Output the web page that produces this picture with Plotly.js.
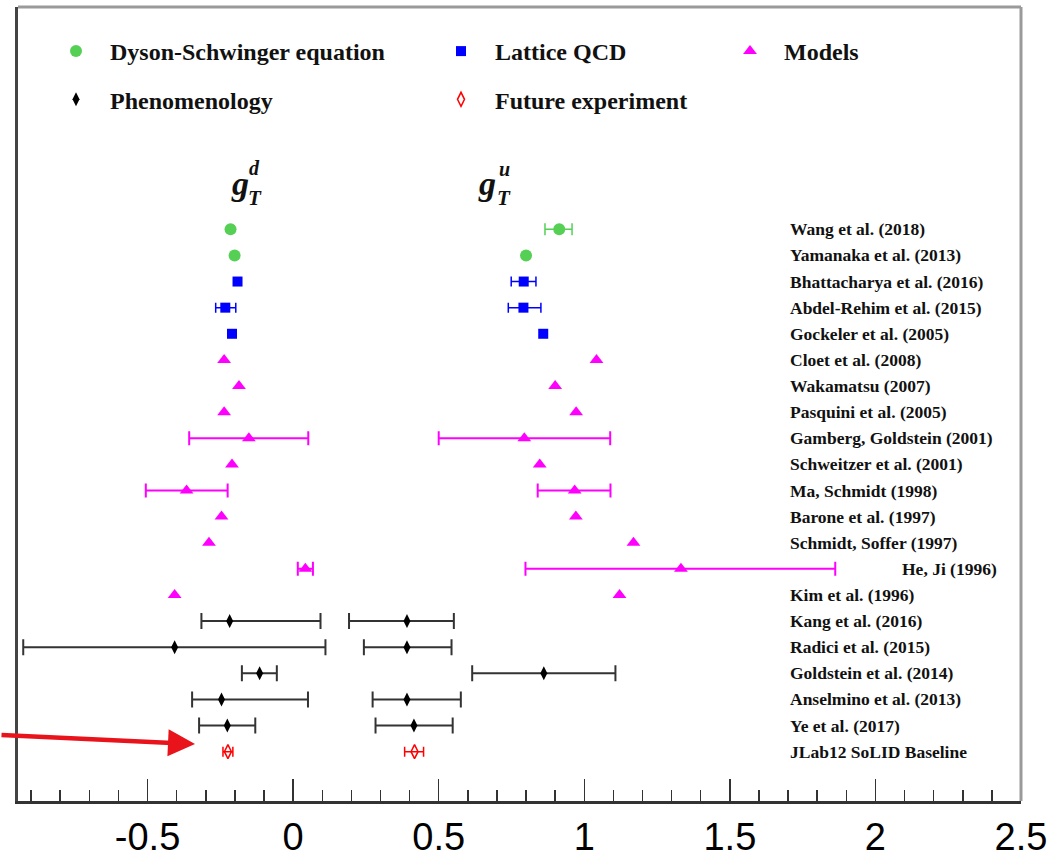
<!DOCTYPE html>
<html>
<head>
<meta charset="utf-8">
<script src="https://cdn.plot.ly/plotly-3.0.1.min.js"></script>
<style>html,body{margin:0;padding:0;background:#fff;}#chart{width:1053px;height:858px;}</style>
</head>
<body>
<div id="chart"></div>
<script>
// ---------- data ----------
const studies = [
  "Wang et al. (2018)", "Yamanaka et al. (2013)", "Bhattacharya et al. (2016)",
  "Abdel-Rehim et al. (2015)", "Gockeler et al. (2005)", "Cloet et al. (2008)",
  "Wakamatsu (2007)", "Pasquini et al. (2005)", "Gamberg, Goldstein (2001)",
  "Schweitzer et al. (2001)", "Ma, Schmidt (1998)", "Barone et al. (1997)",
  "Schmidt, Soffer (1997)", "He, Ji (1996)", "Kim et al. (1996)",
  "Kang et al. (2016)", "Radici et al. (2015)", "Goldstein et al. (2014)",
  "Anselmino et al. (2013)", "Ye et al. (2017)", "JLab12 SoLID Baseline"
];
const method = [
  "DSE", "DSE", "LQCD", "LQCD", "LQCD",
  "Model", "Model", "Model", "Model", "Model", "Model", "Model", "Model", "Model", "Model",
  "Pheno", "Pheno", "Pheno", "Pheno", "Pheno", "Future"
];
const gTd = [-0.215, -0.201, -0.191, -0.233, -0.210, -0.237, -0.186, -0.237, -0.152, -0.210,
             -0.366, -0.246, -0.289, 0.042, -0.407, -0.218, -0.407, -0.115, -0.246, -0.226, -0.224];
const gTdErrMinus = [null, null, null, 0.033, null, null, null, null, 0.205, null,
                     0.140, null, null, 0.026, null, 0.097, 0.520, 0.061, 0.101, 0.097, 0.017];
const gTdErrPlus  = [null, null, null, 0.036, null, null, null, null, 0.204, null,
                     0.141, null, null, 0.026, null, 0.312, 0.518, 0.059, 0.297, 0.096, 0.017];
const gTu = [0.914, 0.800, 0.792, 0.791, 0.859, 1.042, 0.900, 0.972, 0.794, 0.847,
             0.967, 0.971, 1.169, 1.332, 1.121, 0.391, 0.391, 0.861, 0.391, 0.415, 0.417];
const gTuErrMinus = [0.049, null, 0.043, 0.052, null, null, null, null, 0.294, null,
                     0.127, null, null, 0.534, null, 0.199, 0.148, 0.246, 0.118, 0.132, 0.034];
const gTuErrPlus  = [0.044, null, 0.042, 0.060, null, null, null, null, 0.295, null,
                     0.123, null, null, 0.530, null, 0.161, 0.153, 0.246, 0.185, 0.133, 0.031];
const methodNames = {
  DSE: "Dyson-Schwinger equation", LQCD: "Lattice QCD", Model: "Models",
  Pheno: "Phenomenology", Future: "Future experiment"
};
const xTickVals = [-0.5, 0, 0.5, 1, 1.5, 2, 2.5];
const xTickText = ["-0.5", "0", "0.5", "1", "1.5", "2", "2.5"];

// ---------- styles ----------
const styles = {
  DSE:    {symbol: "circle", color: "#55d055", size: 12, ecolor: "#55d055", eth: 1.5, ew: 6, legend: "legend", lgroup: "a"},
  LQCD:   {symbol: "square", color: "#0000ff", size: 10, ecolor: "#0000ff", eth: 1.5, ew: 5, legend: "legend2", lgroup: "c"},
  Model:  {symbol: "triangle-up", color: "#ff00ff", size: 12, ecolor: "#ff00ff", eth: 2, ew: 7, legend: "legend3", lgroup: "e"},
  Pheno:  {symbol: "diamond-tall", color: "#000000", size: 10, ecolor: "#333333", eth: 2, ew: 8, legend: "legend", lgroup: "b"},
  Future: {symbol: "diamond-tall-open", color: "#ff0000", size: 10, ecolor: "#ff0000", eth: 1.5, ew: 5, legend: "legend2", lgroup: "d"}
};

const toErr = v => (v === null ? NaN : v);
const order = ["DSE", "LQCD", "Model", "Pheno", "Future"];
const traces = order.map(key => {
  const idx = method.map((m, i) => (m === key ? i : -1)).filter(i => i >= 0);
  const st = styles[key];
  return {
    type: "scatter", mode: "markers", name: methodNames[key],
    legend: st.legend, legendgroup: st.lgroup,
    x: idx.map(i => gTd[i]).concat(idx.map(i => gTu[i])),
    y: idx.concat(idx),
    marker: {symbol: st.symbol, color: st.color, size: st.size,
             line: {color: st.color, width: key === "Future" ? 1.5 : 0}},
    error_x: {
      type: "data", symmetric: false, visible: true,
      array: idx.map(i => toErr(gTdErrPlus[i])).concat(idx.map(i => toErr(gTuErrPlus[i]))),
      arrayminus: idx.map(i => toErr(gTdErrMinus[i])).concat(idx.map(i => toErr(gTuErrMinus[i]))),
      color: st.ecolor, thickness: st.eth, width: st.ew
    },
    hoverinfo: "x+name", cliponaxis: false
  };
});

// ---------- geometry helpers (pixel -> paper) ----------
const L = 18, R = 1021, T = 7, B = 801;
const px = p => (p - L) / (R - L);
const py = p => 1 - (p - T) / (B - T);

const serif = "Liberation Serif, Times New Roman, serif";
const annotations = studies.map((s, i) => ({
  x: s === "He, Ji (1996)" ? px(900) : px(788), xref: "paper",
  y: i, yref: "y", text: s, showarrow: false, xanchor: "left", yanchor: "middle",
  font: {family: serif, size: 17.5, color: "#111", weight: "bold"}
}));
// g_T^d and g_T^u titles
const titleParts = [
  {t: "g", x: 240, y: 183, s: 34}, {t: "d", x: 254, y: 168, s: 20}, {t: "T", x: 255, y: 198, s: 21},
  {t: "g", x: 487, y: 183, s: 34}, {t: "u", x: 504, y: 169, s: 20}, {t: "T", x: 503.5, y: 198, s: 21}
];
titleParts.forEach(p => annotations.push({
  x: px(p.x), y: py(p.y), xref: "paper", yref: "paper", text: "<i>" + p.t + "</i>",
  showarrow: false, xanchor: "center", yanchor: "middle",
  font: {family: serif, size: p.s, color: "#111", weight: "bold"}
}));
// red arrow pointing at the SoLID projection
annotations.push({
  x: px(195), y: py(744), xref: "paper", yref: "paper", text: "",
  showarrow: true, arrowhead: 2, arrowsize: 1.2, arrowwidth: 4.5, arrowcolor: "#e8131b",
  ax: -200, ay: -9, axref: "pixel", ayref: "pixel", standoff: 0
});

const legendCommon = {
  orientation: "v", bgcolor: "rgba(0,0,0,0)", borderwidth: 0, tracegroupgap: 14,
  font: {family: serif, size: 24, color: "#111", weight: "bold"},
  xanchor: "left", yanchor: "top", itemwidth: 58, itemclick: false
};

const layout = {
  width: 1053, height: 858,
  margin: {l: L, r: 1053 - R, t: T, b: 858 - B, pad: 0},
  paper_bgcolor: "#ffffff", plot_bgcolor: "#ffffff",
  showlegend: true,
  legend: Object.assign({}, legendCommon, {x: px(42), y: py(29)}),
  legend2: Object.assign({}, legendCommon, {x: px(427), y: py(29)}),
  legend3: Object.assign({}, legendCommon, {x: px(716), y: py(29)}),
  xaxis: {
    range: [-0.945, 2.5], showgrid: false, zeroline: false,
    showline: true, linecolor: "#333", linewidth: 3,
    ticks: "inside", ticklen: 22, tickwidth: 1.5, tickcolor: "#333",
    tickvals: xTickVals, ticktext: xTickText,
    minor: {dtick: 0.1, ticks: "inside", ticklen: 11, tickwidth: 1.5, tickcolor: "#333"},
    tickfont: {family: "Liberation Sans, Arial, sans-serif", size: 38, color: "#000"},
    ticklabelstandoff: 0
  },
  yaxis: {
    range: [(B - 229.3) / 26.12, (T - 229.3) / 26.12], showgrid: false, zeroline: false,
    showticklabels: false, ticks: "", showline: true, linecolor: "#444", linewidth: 3
  },
  shapes: [
    {type: "line", xref: "paper", yref: "paper", x0: 0, x1: 1, y0: 1, y1: 1, line: {color: "#9a9a9a", width: 3}},
    {type: "line", xref: "paper", yref: "paper", x0: 1, x1: 1, y0: 0, y1: 1, line: {color: "#9a9a9a", width: 3}}
  ],
  annotations: annotations
};

Plotly.newPlot("chart", traces, layout, {displayModeBar: false, staticPlot: true});
</script>
</body>
</html>
